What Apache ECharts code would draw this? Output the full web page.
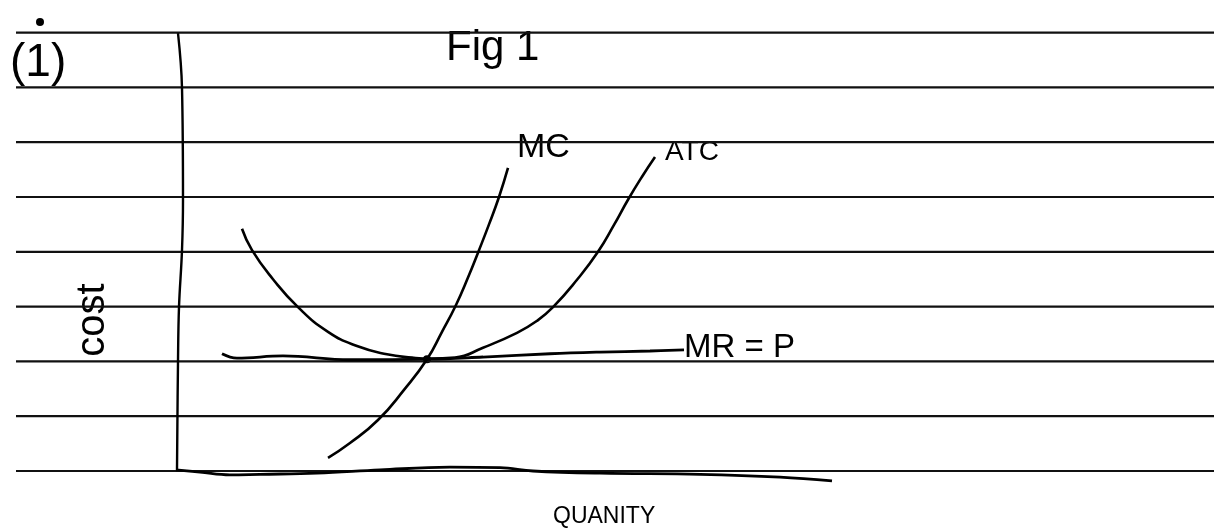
<!DOCTYPE html>
<html>
<head>
<meta charset="utf-8">
<title>Fig 1</title>
<script src="https://cdn.jsdelivr.net/npm/echarts@6/dist/echarts.min.js"></script>
<style>
  html, body { margin: 0; padding: 0; background: #ffffff; }
  #chart { width: 1214px; height: 528px; }
</style>
</head>
<body>
<div id="chart"></div>
<script>
// Quantity runs along x, cost along y (one cost unit = one ruled line of the page).

// Ruled lines of the notebook page
const ruleLevels = [0, 1, 2, 3, 4, 5, 6, 7, 8];
const ruleSpanQ = [-16.2, 103.6];

// Hand-drawn cost axis (vertical)
const costAxisQ    = [0.0, 0.4, 0.5, 0.4, 0.1, 0.0, -0.1];
const costAxisCost = [7.99, 6.99, 4.95, 4.03, 2.99, 1.99, 0.02];

// Hand-drawn quantity axis (horizontal)
const qtyAxisQ    = [-0.2, 2.2, 5.2, 8.2, 13.9, 20.2, 27.2, 32.2, 35.5, 42.2, 52.2, 60.2, 65.4];
const qtyAxisCost = [0.02, -0.02, -0.07, -0.06, -0.04, 0.02, 0.07, 0.06, 0.0, -0.04, -0.06, -0.11, -0.18];

// Marginal cost
const mcQ    = [15.0, 17.2, 20.0, 22.6, 24.9, 26.4, 27.8, 29.0, 30.1, 31.1, 32.1, 33.0];
const mcCost = [0.24, 0.51, 0.93, 1.48, 2.04, 2.54, 3.03, 3.53, 4.03, 4.50, 5.00, 5.53];

// Average total cost
const atcQ    = [6.4, 7.4, 9.5, 12.0, 15.0, 17.9, 20.9, 23.4, 25.2, 27.7, 30.5, 33.9, 35.9, 37.5, 39.9, 42.0, 43.6, 45.0, 46.4, 47.7];
const atcCost = [4.42, 4.03, 3.50, 2.99, 2.54, 2.28, 2.13, 2.07, 2.05, 2.07, 2.25, 2.52, 2.74, 2.99, 3.49, 4.00, 4.49, 4.95, 5.37, 5.73];

// Marginal revenue = price
const mrQ    = [4.4, 5.9, 10.5, 17.2, 24.9, 30.5, 37.2, 42.2, 47.2, 50.6];
const mrCost = [2.14, 2.06, 2.10, 2.03, 2.04, 2.08, 2.14, 2.17, 2.19, 2.21];

// Where MC, ATC and MR = P meet
const eqQ = [24.9];
const eqCost = [2.04];

const curveNames = ['MC', 'ATC', 'MR = P'];

const INK = '#000000';
const zip = (xs, ys) => xs.map((x, i) => [x, ys[i]]);
const last = (xs, ys) => [xs[xs.length - 1], ys[ys.length - 1]];

const chart = echarts.init(document.getElementById('chart'), null, { renderer: 'canvas' });

const series = [];

ruleLevels.forEach((lv) => {
  series.push({
    type: 'line',
    data: ruleSpanQ.map((q) => [q, lv]),
    showSymbol: false,
    silent: true,
    lineStyle: { color: '#111111', width: 2.2 }
  });
});

series.push({
  type: 'line', data: zip(costAxisQ, costAxisCost), smooth: 0.4,
  showSymbol: false, silent: true, lineStyle: { color: INK, width: 2.4 }
});
series.push({
  type: 'line', data: zip(qtyAxisQ, qtyAxisCost), smooth: 0.4,
  showSymbol: false, silent: true, lineStyle: { color: INK, width: 2.8 }
});
series.push({
  type: 'line', name: 'MC', data: zip(mcQ, mcCost), smooth: 0.5,
  showSymbol: false, lineStyle: { color: INK, width: 2.6 }
});
series.push({
  type: 'line', name: 'ATC', data: zip(atcQ, atcCost), smooth: 0.5,
  showSymbol: false, lineStyle: { color: INK, width: 2.6 }
});
series.push({
  type: 'line', name: 'MR = P', data: zip(mrQ, mrCost), smooth: 0.4,
  showSymbol: false, lineStyle: { color: INK, width: 2.8 }
});
series.push({
  type: 'scatter', data: zip(eqQ, eqCost), symbolSize: 8,
  itemStyle: { color: INK, opacity: 1 }
});

// Curve names written just past the end of each curve
const labelStyles = [
  { fontSize: 34, distance: 9, offset: [0, -20] },
  { fontSize: 28, distance: 10, offset: [0, -5] },
  { fontSize: 33, distance: 0, offset: [0, -2] }
];
const ends = [last(mcQ, mcCost), last(atcQ, atcCost), last(mrQ, mrCost)];
series.push({
  type: 'scatter',
  symbolSize: 0,
  silent: true,
  itemStyle: { opacity: 1 },
  data: ends.map((pt, i) => ({
    value: pt,
    label: {
      show: true,
      position: 'right',
      formatter: curveNames[i],
      distance: labelStyles[i].distance,
      offset: labelStyles[i].offset,
      fontSize: labelStyles[i].fontSize,
      fontFamily: 'Liberation Sans',
      color: INK,
      opacity: 1
    }
  }))
});

const option = {
  animation: false,
  backgroundColor: '#ffffff',
  grid: { left: 0, right: 0, top: 0, bottom: 0, containLabel: false },
  xAxis: { type: 'value', min: -17.8, max: 103.6, show: false },
  yAxis: { type: 'value', min: -1.04, max: 8.595, show: false },
  series: series,
  graphic: [
    { type: 'circle', shape: { cx: 40, cy: 22, r: 4 }, style: { fill: INK } },
    {
      type: 'text', x: 10, y: 63,
      style: { text: '(1)', fontSize: 46, fontFamily: 'Liberation Sans', fill: INK,
               textAlign: 'left', textVerticalAlign: 'middle' }
    },
    {
      type: 'text', x: 446, y: 48,
      style: { text: 'Fig 1', fontSize: 42, fontFamily: 'Liberation Sans', fill: INK,
               textAlign: 'left', textVerticalAlign: 'middle' }
    },
    {
      type: 'text', x: 93, y: 320, rotation: Math.PI / 2,
      style: { text: 'cost', fontSize: 40, fontFamily: 'Liberation Sans', fill: INK,
               textAlign: 'center', textVerticalAlign: 'middle' }
    },
    {
      type: 'text', x: 553, y: 517,
      style: { text: 'QUANITY', fontSize: 23, fontFamily: 'Liberation Sans', fill: INK,
               textAlign: 'left', textVerticalAlign: 'middle' }
    }
  ]
};

chart.setOption(option);
</script>
</body>
</html>
